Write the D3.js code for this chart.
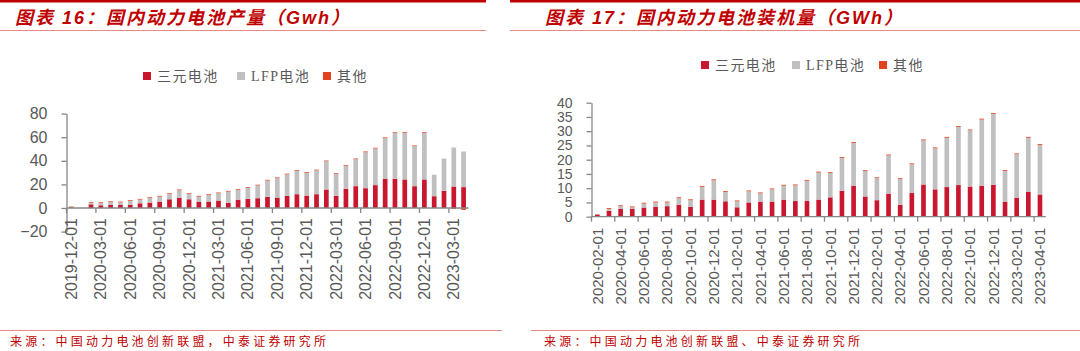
<!DOCTYPE html>
<html>
<head>
<meta charset="utf-8">
<script src="https://cdn.jsdelivr.net/npm/d3@7"></script>
<style>
  body { margin: 0; background: #fff; }
  svg { display: block; }
</style>
</head>
<body>
<svg id="chart" width="1080" height="351"></svg>
<script>
// ---- data: chart 16, production (GWh), monthly ----
const months16 = [
  "2019-12-01","2020-01-01","2020-02-01","2020-03-01","2020-04-01","2020-05-01","2020-06-01",
  "2020-07-01","2020-08-01","2020-09-01","2020-10-01","2020-11-01","2020-12-01",
  "2021-01-01","2021-02-01","2021-03-01","2021-04-01","2021-05-01","2021-06-01",
  "2021-07-01","2021-08-01","2021-09-01","2021-10-01","2021-11-01","2021-12-01",
  "2022-01-01","2022-02-01","2022-03-01","2022-04-01","2022-05-01","2022-06-01",
  "2022-07-01","2022-08-01","2022-09-01","2022-10-01","2022-11-01","2022-12-01",
  "2023-01-01","2023-02-01","2023-03-01","2023-04-01"
];
const tern16 = [0.6, 0, 3.1, 2.3, 2.8, 2.8, 2.6, 4.0, 4.6, 5.4, 7.4, 8.5, 7.4,
  5.1, 5.4, 6.3, 4.3, 7.1, 7.7, 8.3, 9.4, 8.8, 10.3, 11.7, 10.5,
  11.7, 15.7, 10.3, 16.2, 18.5, 16.8, 19.4, 24.8, 24.8, 24.2, 18.5, 24.2,
  10.0, 14.5, 18.2, 17.7];
const lfp16 = [0.5, 0, 1.1, 1.9, 2.3, 2.0, 3.6, 3.1, 3.9, 4.3, 4.5, 6.6, 4.5,
  4.6, 5.7, 6.2, 9.6, 8.3, 9.4, 10.8, 13.9, 16.5, 18.2, 19.9, 19.4,
  20.2, 23.9, 18.7, 19.4, 22.8, 30.5, 31.0, 34.4, 38.7, 39.6, 33.9, 39.6,
  18.2, 27.4, 33.1, 30.2];
const other16 = [0.3, 0, 0.6, 0.6, 0.6, 0.6, 0.6, 0.6, 0.6, 0.6, 0.6, 0.6, 0.6,
  0.6, 0.6, 0.6, 0.6, 0.6, 0.6, 0.6, 0.6, 0.6, 0.6, 0.6, 0.6,
  0.6, 0.6, 0.6, 0.6, 0.6, 0.6, 0.6, 0.6, 0.6, 0.6, 0.6, 0.6,
  0, 0, -0.8, -1.6];
const yTicks16 = [-20, 0, 20, 40, 60, 80];

// ---- data: chart 17, installed (GWh), monthly ----
const months17 = [
  "2020-02-01","2020-03-01","2020-04-01","2020-05-01","2020-06-01","2020-07-01",
  "2020-08-01","2020-09-01","2020-10-01","2020-11-01","2020-12-01",
  "2021-01-01","2021-02-01","2021-03-01","2021-04-01","2021-05-01","2021-06-01",
  "2021-07-01","2021-08-01","2021-09-01","2021-10-01","2021-11-01","2021-12-01",
  "2022-01-01","2022-02-01","2022-03-01","2022-04-01","2022-05-01","2022-06-01",
  "2022-07-01","2022-08-01","2022-09-01","2022-10-01","2022-11-01","2022-12-01",
  "2023-01-01","2023-02-01","2023-03-01","2023-04-01"
];
const tern17 = [0.7, 2.1, 2.7, 2.8, 3.2, 3.4, 3.7, 4.2, 3.5, 6.0, 6.0,
  5.4, 3.3, 5.0, 5.3, 5.3, 6.0, 5.5, 5.5, 6.0, 6.8, 9.1, 10.9,
  7.1, 5.8, 8.1, 4.2, 8.3, 11.3, 9.6, 10.4, 11.1, 10.6, 10.9, 11.2,
  5.3, 6.7, 8.7, 7.8];
const lfp17 = [0.1, 0.6, 1.0, 0.5, 1.4, 1.6, 1.3, 2.3, 2.3, 4.5, 6.8,
  3.3, 2.1, 3.9, 2.9, 4.3, 4.9, 5.5, 7.1, 9.5, 8.5, 11.5, 15.0,
  8.9, 7.7, 13.4, 9.0, 10.1, 15.5, 14.4, 17.3, 20.4, 19.7, 23.2, 24.9,
  10.8, 15.2, 19.0, 17.4];
const other17 = [0.1, 0.3, 0.3, 0.3, 0.3, 0.3, 0.3, 0.3, 0.3, 0.3, 0.3,
  0.3, 0.3, 0.3, 0.3, 0.3, 0.3, 0.3, 0.3, 0.3, 0.3, 0.3, 0.3,
  0.3, 0.3, 0.3, 0.3, 0.3, 0.3, 0.3, 0.3, 0.3, 0.3, 0.3, 0.3,
  0.3, 0.3, 0.3, 0.3];
const yTicks17 = [0, 5, 10, 15, 20, 25, 30, 35, 40];

const seriesNames = ["三元电池", "LFP电池", "其他"];
const seriesColors = ["#c8172f", "#c0c0c0", "#e2431e"];

const svg = d3.select("#chart");
const red = "#c00000";
const axisColor = "#868686";
const labelColor = "#595959";

// frame: top bar, title, rules, source
function decor(c) {
  svg.append("rect").attr("x", c.lineX0).attr("y", 0)
    .attr("width", c.lineX1 - c.lineX0).attr("height", 2.5).attr("fill", red);
  svg.append("line").attr("x1", c.lineX0).attr("x2", c.lineX1)
    .attr("y1", 30.5).attr("y2", 30.5).attr("stroke", "#e88a84").attr("stroke-width", 1);
  svg.append("text").attr("x", c.titleX).attr("y", 24)
    .attr("fill", red).attr("font-size", 18).attr("font-weight", "bold")
    .attr("font-style", "italic").attr("letter-spacing", 2)
    .attr("font-family", "'Liberation Sans', 'Noto Sans CJK SC', sans-serif")
    .text(c.title);
  svg.append("line").attr("x1", c.botX0).attr("x2", c.botX1)
    .attr("y1", 330.5).attr("y2", 330.5).attr("stroke", "#e88a84").attr("stroke-width", 1);
  svg.append("text").attr("x", c.srcX).attr("y", 346)
    .attr("fill", red).attr("font-size", 12).attr("letter-spacing", 3.2)
    .attr("font-family", "'Noto Sans CJK SC', sans-serif")
    .text(c.source);
}

function panel(c) {
  const g = svg.append("g");

  const x = d3.scaleBand().domain(c.months)
    .range([c.x0, c.x1]).paddingInner(c.pad).paddingOuter(c.pad / 2);
  const y = d3.scaleLinear().domain([c.yTicks[0], c.yTicks[c.yTicks.length - 1]])
    .range([c.yBottom, c.yTop]);

  const rows = c.months.map((m, i) => ({ month: m, s0: c.tern[i], s1: c.lfp[i], s2: c.other[i] }));
  const stacked = d3.stack().keys(["s0", "s1", "s2"]).offset(d3.stackOffsetDiverging)(rows);

  g.selectAll("g.series")
    .data(stacked)
    .join("g")
    .attr("class", "series")
    .attr("fill", (d, i) => seriesColors[i])
    .selectAll("rect")
    .data(d => d)
    .join("rect")
    .attr("x", d => x(d.data.month))
    .attr("width", x.bandwidth())
    .attr("y", d => y(Math.max(d[0], d[1])))
    .attr("height", d => Math.abs(y(d[0]) - y(d[1])));

  // y axis
  const yAxis = g.append("g")
    .attr("transform", `translate(${c.x0},0)`)
    .call(d3.axisLeft(y).tickValues(c.yTicks).tickSize(5).tickSizeOuter(0).tickPadding(c.yPad));
  yAxis.select(".domain").attr("stroke", axisColor).attr("stroke-width", 1.3);
  yAxis.selectAll(".tick line").attr("stroke", axisColor).attr("stroke-width", 1.3);
  yAxis.selectAll(".tick text")
    .attr("fill", labelColor).attr("font-size", c.yFont)
    .attr("font-family", "'Liberation Sans', Arial, sans-serif");

  // x axis: labels centred on months, tick marks on month boundaries
  const labelled = c.months.filter((m, i) => i % c.every === 0);
  const xAxis = g.append("g")
    .attr("transform", `translate(0,${y(0)})`)
    .call(d3.axisBottom(x).tickValues(labelled).tickSize(0).tickSizeOuter(0));
  xAxis.select(".domain").remove();
  xAxis.append("line").attr("x1", c.x0).attr("x2", c.x1)
    .attr("stroke", axisColor).attr("stroke-width", 1.3);
  const half = x.step() * c.pad / 2;
  xAxis.selectAll("line.mark")
    .data(labelled)
    .join("line")
    .attr("class", "mark")
    .attr("x1", d => x(d) - half).attr("x2", d => x(d) - half)
    .attr("y1", 0).attr("y2", 5)
    .attr("stroke", axisColor).attr("stroke-width", 1.3);
  xAxis.selectAll(".tick text")
    .attr("transform", "rotate(-90)")
    .attr("text-anchor", "end")
    .attr("x", -c.xGap).attr("y", 0).attr("dy", "0.35em")
    .attr("fill", labelColor).attr("font-size", c.xFont)
    .attr("font-family", "'Liberation Sans', Arial, sans-serif");

  // legend
  const lg = g.append("g").attr("transform", `translate(0,${c.legendY})`);
  const items = lg.selectAll("g")
    .data(seriesNames)
    .join("g")
    .attr("transform", (d, i) => `translate(${c.legendX[i]},0)`);
  items.append("rect").attr("x", 0).attr("y", -4).attr("width", 8).attr("height", 8)
    .attr("fill", (d, i) => seriesColors[i]);
  items.append("text").attr("x", 14).attr("y", 5)
    .attr("fill", labelColor).attr("font-size", 14).attr("letter-spacing", 1.4)
    .attr("font-family", "'Liberation Serif', 'Noto Sans CJK SC', serif")
    .text(d => d);
}

decor({ lineX0: 0, lineX1: 486, titleX: 15, botX0: 0, botX1: 502, srcX: 10,
  title: "图表 16：国内动力电池产量（Gwh）",
  source: "来源：中国动力电池创新联盟，中泰证券研究所" });
decor({ lineX0: 510, lineX1: 1080, titleX: 545, botX0: 531, botX1: 1080, srcX: 544,
  title: "图表 17：国内动力电池装机量（GWh）",
  source: "来源：中国动力电池创新联盟、中泰证券研究所" });

panel({ months: months16, tern: tern16, lfp: lfp16, other: other16, yTicks: yTicks16,
  x0: 66.5, x1: 468.5, yTop: 113.6, yBottom: 231.6, pad: 0.52, every: 3,
  yPad: 14, yFont: 16, xFont: 16, xGap: 10, legendY: 76, legendX: [143, 237, 323] });
panel({ months: months17, tern: tern17, lfp: lfp17, other: other17, yTicks: yTicks17,
  x0: 591.5, x1: 1045.8, yTop: 102.7, yBottom: 216.7, pad: 0.6, every: 2,
  yPad: 14, yFont: 14, xFont: 15, xGap: 11, legendY: 65, legendX: [701, 792, 879] });
</script>
</body>
</html>
